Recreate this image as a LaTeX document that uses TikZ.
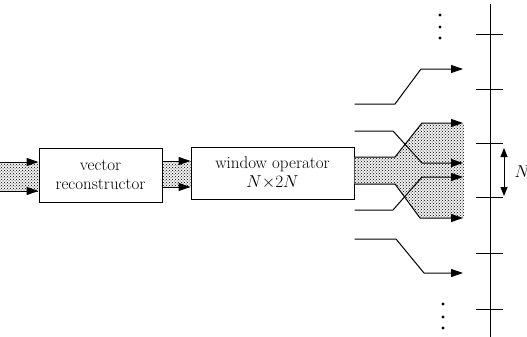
\documentclass[tikz,border=0pt]{standalone}
\usepackage{amsmath}
\usepackage{tikz}
\usetikzlibrary{arrows.meta,positioning,patterns}

\begin{document}
\begin{tikzpicture}[
  x=1pt, y=-1pt,
  box/.style={rectangle, draw, line width=1pt, align=center, inner sep=2pt,
    font=\fontsize{17}{19}\selectfont},
  arw/.style={-{Triangle[length=12pt,width=8pt]}, line width=1pt},
  stipple/.style={fill=black!6, postaction={pattern=crosshatch dots, pattern color=black}},
  rule/.style={line width=1pt},
]
  \useasboundingbox (0,0) rectangle (527,337);

  \node[box, minimum width=123pt, minimum height=54pt] (rec) at (100.5,175)
    {vector\\reconstructor};
  \node[box, minimum width=163pt, minimum height=52pt, right=28pt of rec, yshift=2pt] (win)
    {window operator\\$N{\times}2N$};

  % input band
  \coordinate (inA) at (0,162);
  \coordinate (inB) at (0,191);
  \fill[stipple] (inA) rectangle (rec.west |- inB);
  \draw[arw] (inA) -- (rec.west |- inA);
  \draw[arw] (inB) -- (rec.west |- inB);

  % band between the two blocks
  \coordinate (midA) at (176,161);
  \coordinate (midB) at (176,187);
  \fill[stipple] (rec.east |- midA) rectangle (win.west |- midB);
  \draw[arw] (rec.east |- midA) -- (win.west |- midA);
  \draw[arw] (rec.east |- midB) -- (win.west |- midB);

  % fan of output segments
  \fill[stipple] (win.east |- 0,157) -- (395,157) -- (422,123) -- (464,123)
    -- (464,218) -- (420,218) -- (395,184) -- (win.east |- 0,184) -- cycle;
  \foreach \ya/\xb/\xc/\yd in {104/395/421/69, 131/393/422/163, 157/395/422/123,
      184/395/420/218, 210/393/422/177, 239/396/424/273}
    \draw[arw] (win.east |- 0,\ya) -- (\xb,\ya) -- (\xc,\yd) -- (463,\yd);

  % output axis
  \coordinate (top) at (490,4);
  \coordinate (bot) at (490,337);
  \draw[rule] (top) -- (bot);
  \foreach \ty in {35,89,143,197,253,309}
    \draw[rule] (476,\ty) -- (503,\ty);
  \foreach \dy in {15,27,38}
    \fill (440,\dy) circle (1.7pt);
  \foreach \dy in {304,317,328}
    \fill (443,\dy) circle (1.7pt);

  \coordinate (na) at (504,148);
  \coordinate (nb) at (504,196);
  \draw[{Triangle[length=9pt,width=7pt]}-{Triangle[length=9pt,width=7pt]}, line width=1pt]
    (na) -- (nb) node[midway, right=10pt, inner sep=0pt, font=\fontsize{17}{19}\selectfont] (nlab) {$N$};
\end{tikzpicture}
\end{document}
